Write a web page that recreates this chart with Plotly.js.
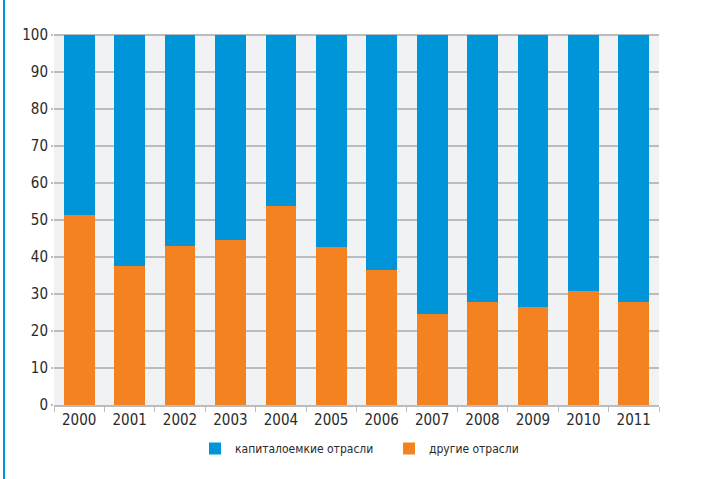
<!DOCTYPE html>
<html>
<head>
<meta charset="utf-8">
<script src="https://cdn.plot.ly/plotly-3.0.1.min.js"></script>
<style>
html,body{margin:0;padding:0;background:#fff;}
#wrap{position:relative;width:706px;height:479px;}
#bar{position:absolute;left:3px;top:0;width:2px;height:479px;background:#0095d9;}
#chart{position:absolute;left:0;top:0;width:706px;height:479px;}
</style>
</head>
<body>
<div id="wrap"><div id="chart"></div><div id="bar"></div></div>
<script>
const years = ['2000','2001','2002','2003','2004','2005','2006','2007','2008','2009','2010','2011'];
const other = [51.5, 37.7, 42.9, 44.5, 53.9, 42.6, 36.4, 24.5, 27.8, 26.4, 30.7, 27.8];
const capital = [48.5, 62.3, 57.1, 55.5, 46.1, 57.4, 63.6, 75.5, 72.2, 73.6, 69.3, 72.2];
const seriesNames = ['капиталоемкие отрасли', 'другие отрасли'];
const yTicks = [0,10,20,30,40,50,60,70,80,90,100];

const FONT = '"DejaVu Sans Condensed", "Roboto", sans-serif';
const TXT = '#2a2a2a';

const traces = [
  {type:'bar', x: years, y: other, name: seriesNames[1], marker:{color:'#f58220'}, hoverinfo:'none'},
  {type:'bar', x: years, y: capital, name: seriesNames[0], marker:{color:'#0095d9'}, hoverinfo:'none'}
];

const layout = {
  width:706, height:479,
  margin:{l:54, r:47, t:34, b:74},
  paper_bgcolor:'#ffffff',
  plot_bgcolor:'#f1f2f4',
  barmode:'stack',
  bargap:0.39,
  font:{family:FONT, size:15, color:TXT},
  showlegend:true,
  legend:{orientation:'h', traceorder:'reversed', xref:'container', yref:'container',
          x:195/706, xanchor:'left', y:1-434/479, yanchor:'top',
          font:{family:FONT, size:12, color:TXT}, entrywidth:149, entrywidthmode:'pixels',
          itemwidth:30},
  xaxis:{type:'category', showgrid:false, showline:true, linecolor:'#bbbcbe', linewidth:2,
         ticks:'outside', tickson:'boundaries', ticklen:5, tickcolor:'#bbbcbe', tickwidth:1,
         tickfont:{family:FONT, size:15, color:TXT}, zeroline:false, fixedrange:true, automargin:false},
  yaxis:{range:[0,100.3], tickvals:yTicks, ticktext:yTicks.map(String), showgrid:true, gridcolor:'#bbbcbe', gridwidth:2,
         zeroline:false, showline:false, ticks:'outside', ticklen:2, tickcolor:'#bbbcbe', tickwidth:2,
         tickfont:{family:FONT, size:15, color:TXT}, fixedrange:true, automargin:false}
};

Plotly.newPlot('chart', traces, layout, {displayModeBar:false, staticPlot:true});
</script>
</body>
</html>
